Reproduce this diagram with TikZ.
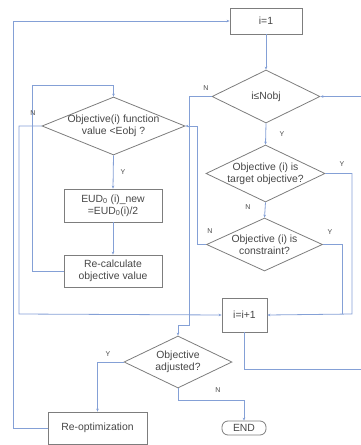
\documentclass[tikz,border=0pt]{standalone}
\usepackage{fontspec}
\setmainfont{Liberation Sans}
\usetikzlibrary{shapes.geometric,arrows.meta}
\definecolor{flowblue}{RGB}{132,160,214}
\definecolor{shapegray}{RGB}{125,125,125}
\definecolor{txtgray}{RGB}{70,70,70}
\tikzset{
  box/.style={draw=shapegray, line width=0.8pt, rectangle, inner sep=0pt,
    text=txtgray, font=\fontsize{10.4}{12}\selectfont, align=center},
  dia/.style={draw=shapegray, line width=0.8pt, diamond, inner sep=0pt},
  diatext/.style={text=txtgray, font=\fontsize{10.4}{12}\selectfont, align=center, inner sep=0pt},
  term/.style={box, rounded corners=6pt},
  flow/.style={draw=flowblue, line width=0.8pt, -{Stealth[length=3pt,width=2.6pt]}},
  flowplain/.style={draw=flowblue, line width=0.8pt},
  yn/.style={text=txtgray, font=\fontsize{7}{8}\selectfont, inner sep=0pt}
}
\begin{document}
\begin{tikzpicture}[x=1pt,y=-1pt]
\useasboundingbox (0,0) rectangle (361,445);

% process boxes
\node[box, minimum width=72pt, minimum height=26pt] (i1) at (266,21) {i=1};
\node[box, minimum width=45pt, minimum height=34pt] (inc) at (244.5,315) {i=i+1};
\node[box, minimum width=98pt, minimum height=33pt] (eud) at (113,205.5)
  {EUD\textsubscript{0} (i)\_new\\=EUD\textsubscript{0}(i)/2};
\node[box, minimum width=98pt, minimum height=32pt] (recalc) at (113,271)
  {Re-calculate\\objective value};
\node[box, minimum width=99pt, minimum height=32pt] (reopt) at (97.5,428) {Re-optimization};
\node[term, minimum width=44pt, minimum height=14pt] (end) at (244,428) {END};

% decisions
\node[dia, minimum width=108pt, minimum height=53pt,
  label={[diatext]center:i≤Nobj}] (nobj) at (266,96.5) {};
\node[dia, minimum width=119pt, minimum height=57pt,
  label={[diatext]center:Objective (i) is\\target objective?}] (targ) at (265.5,173.5) {};
\node[dia, minimum width=116pt, minimum height=53pt,
  label={[diatext]center:Objective (i) is\\constraint?}] (cons) at (264.5,244.5) {};
\node[dia, minimum width=143pt, minimum height=58pt,
  label={[diatext]center:Objective(i) function\\value <Eobj ?}] (func) at (113.5,126) {};
\node[dia, minimum width=108pt, minimum height=52pt,
  label={[diatext]center:Objective\\adjusted?}] (adj) at (178,362) {};

% turning points of the connectors
\coordinate (tY) at (352,173.5);
\coordinate (tYd) at (352,314);
\coordinate (cY) at (342,244.5);
\coordinate (cYd) at (342,314);
\coordinate (cN) at (197,244.5);
\coordinate (cNu) at (197,126);
\coordinate (nN) at (189,96.5);
\coordinate (nNd) at (189,325);
\coordinate (nNl) at (178,325);
\coordinate (rcl) at (32,271);
\coordinate (rcu) at (32,85);
\coordinate (rcr) at (113.5,85);
\coordinate (fN) at (19,126);
\coordinate (fNd) at (19,314);
\coordinate (aY) at (97.5,362);
\coordinate (aN) at (178,400);
\coordinate (aNr) at (244,400);
\coordinate (ro) at (13,428);
\coordinate (rou) at (13,21);
\coordinate (id) at (244.5,369);
\coordinate (idr) at (363,369);
\coordinate (iur) at (363,96.5);

% connectors
\draw[flow] (i1) -- (nobj.north);
\draw[flow] (nobj.south) -- (targ.north);
\draw[flow] (targ.south) -- (cons.north);
\draw[flow] (targ.east) -- (tY) -- (tYd) -- (inc.east);
\draw[flowplain] (cons.east) -- (cY) -- (cYd);
\draw[flow] (cons.west) -- (cN) -- (cNu) -- (func.east);
\draw[flow] (nobj.west) -- (nN) -- (nNd) -- (nNl) -- (adj.north);
\draw[flow] (func.south) -- (eud.north);
\draw[flow] (eud.south) -- (recalc.north);
\draw[flow] (recalc.west) -- (rcl) -- (rcu) -- (rcr) -- (func.north);
\draw[flow] (func.west) -- (fN) -- (fNd) -- (inc.west);
\draw[flow] (adj.west) -- (aY) -- (reopt.north);
\draw[flow] (adj.south) -- (aN) -- (aNr) -- (end.north);
\draw[flow] (reopt.west) -- (ro) -- (rou) -- (i1.west);
\draw[flow] (inc.south) -- (id) -- (idr) -- (iur) -- (nobj.east);

% branch labels
\node[yn] (lnY) at (282,134) {Y};
\node[yn] (lnN) at (206,88) {N};
\node[yn] (ltN) at (248,207) {N};
\node[yn] (ltY) at (342,164) {Y};
\node[yn] (lcN) at (210,231) {N};
\node[yn] (lcY) at (330,232) {Y};
\node[yn] (lfN) at (33,113) {N};
\node[yn] (lfY) at (123,172) {Y};
\node[yn] (laY) at (108,354) {Y};
\node[yn] (laN) at (218,390) {N};
\end{tikzpicture}
\end{document}
